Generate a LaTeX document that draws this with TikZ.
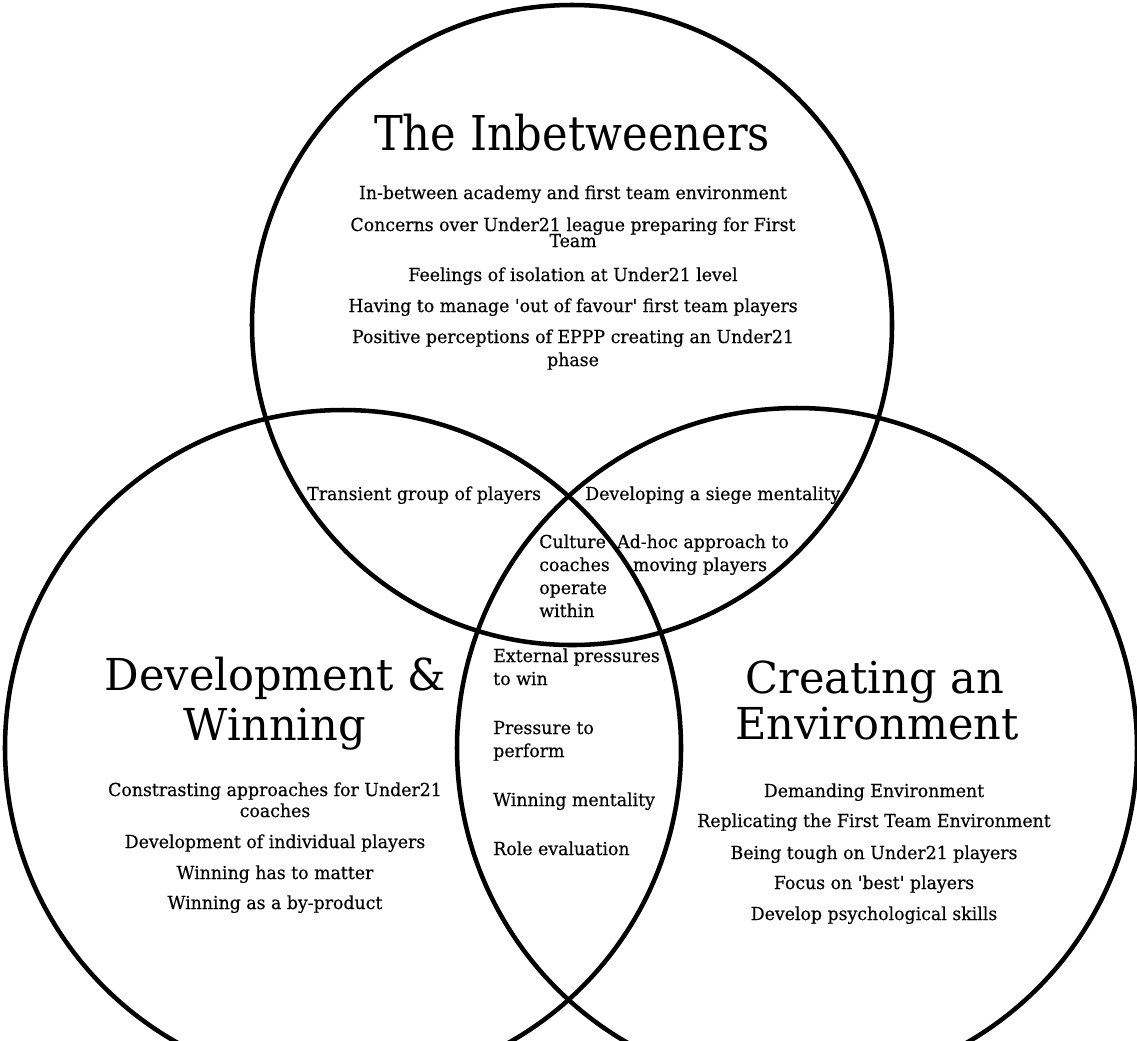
\documentclass[tikz,border=0pt]{standalone}
\usepackage{fontspec}
\setmainfont{DejaVu Serif}[FakeStretch=0.97, FakeBold=0.4, Ligatures=TeXOff]
\newfontfamily\titlefont{DejaVu Serif}[FakeStretch=0.9, Ligatures=TeXOff]
\newfontfamily\subtitlefont{DejaVu Serif}[FakeStretch=0.98, Ligatures=TeXOff]
\begin{document}
\begin{tikzpicture}[x=0.75pt,y=-0.75pt,
  ring/.style={line width=3.4pt},
  bodytext/.style={font=\fontsize{13.4}{16}\selectfont, inner sep=0pt, anchor=base},
  lefttext/.style={bodytext, anchor=base west},
  bigtitle/.style={font=\titlefont\fontsize{36}{40}\selectfont, inner sep=0pt, anchor=base},
  subtitle/.style={font=\subtitlefont\fontsize{33}{38}\selectfont, inner sep=0pt, anchor=base}]
\useasboundingbox (0,0) rectangle (1137,1040);
\clip (0,0) rectangle (1137,1040);
\fill[white] (0,0) rectangle (1137,1040);
% circle centres
\coordinate (ctop) at (572,325);
\coordinate (cleft) at (343,748);
\coordinate (cright) at (797,748);
\draw[ring] (ctop) circle[radius=320];
\draw[ring] (cleft) circle[radius=338];
\draw[ring] (cright) circle[radius=340];

% top circle
\node[bigtitle] (ttop) at (572,150) {The Inbetweeners};
\node[bodytext] (a1) at (573,199) {In-between academy and first team environment};
\node[bodytext] (a2) at (573,231) {Concerns over Under21 league preparing for First};
\node[bodytext] (a2b) at (573,247) {Team};
\node[bodytext] (a3) at (573,281) {Feelings of isolation at Under21 level};
\node[bodytext] (a4) at (573,312) {Having to manage 'out of favour' first team players};
\node[bodytext] (a5) at (573,343) {Positive perceptions of EPPP creating an Under21};
\node[bodytext] (a5b) at (573,366) {phase};

% left circle
\node[subtitle] (tleft) at (275,690) {Development \&};
\node[subtitle] (tleftb) at (275,740) {Winning};
\node[bodytext] (b1) at (275,796) {Constrasting approaches for Under21};
\node[bodytext] (b1b) at (275,817) {coaches};
\node[bodytext] (b2) at (275,848) {Development of individual players};
\node[bodytext] (b3) at (275,879) {Winning has to matter};
\node[bodytext] (b4) at (275,909) {Winning as a by-product};

% right circle
\node[subtitle] (tright) at (875,693) {Creating an};
\node[subtitle] (trightb) at (877,739) {Environment};
\node[bodytext] (c1) at (874,797) {Demanding Environment};
\node[bodytext] (c2) at (874,827) {Replicating the First Team Environment};
\node[bodytext] (c3) at (874,859) {Being tough on Under21 players};
\node[bodytext] (c4) at (874,889) {Focus on 'best' players};
\node[bodytext] (c5) at (874,920) {Develop psychological skills};

% overlaps
\node[lefttext] (d1) at (307,500) {Transient group of players};
\node[lefttext] (e1) at (585,500) {Developing a siege mentality};
\node[bodytext] (e2) at (703,548) {Ad-hoc approach to};
\node[bodytext] (e2b) at (700,571) {moving players};
\node[lefttext] (m1) at (539,548) {Culture};
\node[lefttext] (m1b) at (539,571) {coaches};
\node[lefttext] (m1c) at (539,594) {operate};
\node[lefttext] (m1d) at (539,617) {within};
\node[lefttext] (f1) at (493,662) {External pressures};
\node[lefttext] (f1b) at (493,685) {to win};
\node[lefttext] (f2) at (493,734) {Pressure to};
\node[lefttext] (f2b) at (493,757) {perform};
\node[lefttext] (f3) at (493,806) {Winning mentality};
\node[lefttext] (f4) at (493,855) {Role evaluation};
\end{tikzpicture}
\end{document}
